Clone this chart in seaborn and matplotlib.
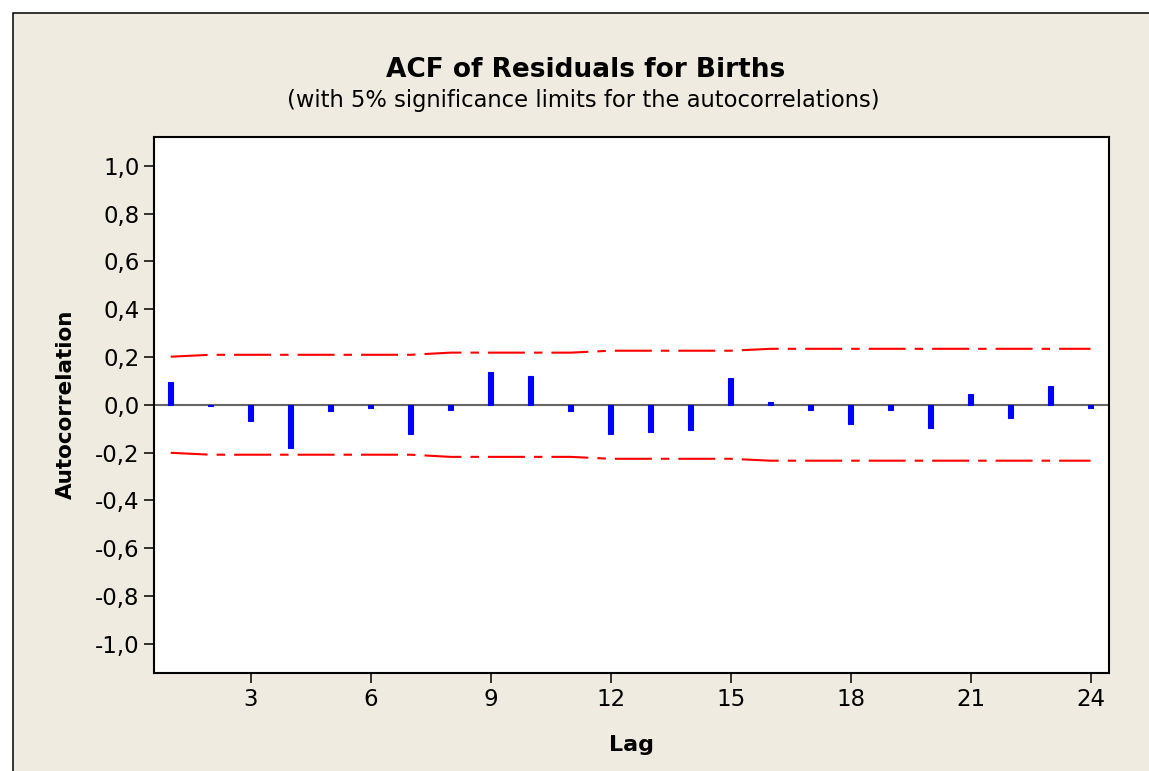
import numpy as np
import pandas as pd
import seaborn as sns
import matplotlib
import matplotlib.pyplot as plt
from matplotlib.patches import Rectangle

# values
lags = list(range(1, 25))
acf = [0.094, -0.005, -0.070, -0.180, -0.028, -0.013, -0.121, -0.021,
       0.136, 0.121, -0.028, -0.121, -0.112, -0.105, 0.112, 0.013,
       -0.021, -0.080, -0.021, -0.096, 0.046, -0.055, 0.080, -0.014]
upper = [0.201] + [0.209] * 6 + [0.218] * 4 + [0.226] * 4 + [0.234] * 9
lower = [-u for u in upper]

xticks = [3, 6, 9, 12, 15, 18, 21, 24]
yticks = [-1.0, -0.8, -0.6, -0.4, -0.2, 0.0, 0.2, 0.4, 0.6, 0.8, 1.0]
ytick_labels = ['-1,0', '-0,8', '-0,6', '-0,4', '-0,2', '0,0',
                '0,2', '0,4', '0,6', '0,8', '1,0']

title = 'ACF of Residuals for Births'
subtitle = '(with 5% significance limits for the autocorrelations)'

df = pd.DataFrame({'Lag': lags, 'ACF': acf, 'upper': upper, 'lower': lower})

sns.set_style('ticks', rc={'axes.edgecolor': 'black', 'axes.linewidth': 1.5,
                           'xtick.color': 'black', 'ytick.color': 'black',
                           'axes.labelcolor': 'black', 'text.color': 'black',
                           'xtick.direction': 'out', 'ytick.direction': 'out'})
plt.rcParams['font.family'] = ['DejaVu Sans']
plt.rcParams['lines.scale_dashes'] = False

W, H = 1149, 771
fig = plt.figure(figsize=(W / 100, H / 100), dpi=100, facecolor='white')

# beige panel with black border on left/top
fig.patches.append(Rectangle((13 / W, -0.1), 1.2, 1 - 12.7 / H + 0.1,
                             transform=fig.transFigure, facecolor='#EFEBE1',
                             edgecolor='black', linewidth=1.1, zorder=-10))

left, right, top, bottom = 153.5, 1109.3, 137, 672.5
ax = fig.add_axes([left / W, 1 - bottom / H, (right - left) / W, (bottom - top) / H])
ax.set_facecolor('white')

ax.axhline(0, color='#666666', linewidth=1.5, zorder=1)

sns.barplot(data=df, x='Lag', y='ACF', native_scale=True, orient='x',
            color='#0000FF', saturation=1, width=0.11, edgecolor='#0000FF',
            linewidth=0.8, errorbar=None, ax=ax, zorder=3)

dash = (0, (26.6, 6.5, 6.1, 6.5))
sns.lineplot(data=df, x='Lag', y='upper', color='#FF0000', linewidth=1.5,
             linestyle=dash, ax=ax, zorder=2)
sns.lineplot(data=df, x='Lag', y='lower', color='#FF0000', linewidth=1.5,
             linestyle=dash, ax=ax, zorder=2)

ax.set_xlim(0.57, 24.47)
ax.set_ylim(-1.12, 1.12)
ax.set_xticks(xticks)
ax.set_xticklabels([str(t) for t in xticks])
ax.set_yticks(yticks)
ax.set_yticklabels(ytick_labels)
ax.tick_params(axis='both', labelsize=16.5, length=7, width=1.1, pad=4,
               colors='black')
ax.tick_params(axis='y', pad=3)
for s in ax.spines.values():
    s.set_visible(True)
    s.set_linewidth(1.5)
    s.set_color('black')

ax.set_xlabel('Lag', fontsize=16, fontweight='bold', color='black')
ax.xaxis.label.set_va('baseline')
ax.xaxis.set_label_coords(0.5, (bottom - 751) / (bottom - top))
ax.set_ylabel('Autocorrelation', fontsize=15.5, fontweight='bold', color='black')
ax.yaxis.label.set_va('baseline')
ax.yaxis.set_label_coords((72 - left) / (right - left), 0.5)

fig.text(586 / W, 1 - 77.3 / H, title, ha='center', va='baseline',
         fontsize=19, fontweight='bold', color='black')
fig.text(583.5 / W, 1 - 107.3 / H, subtitle, ha='center', va='baseline',
         fontsize=16.3, color='black')

fig.savefig('out.png', dpi=100, facecolor='white')
